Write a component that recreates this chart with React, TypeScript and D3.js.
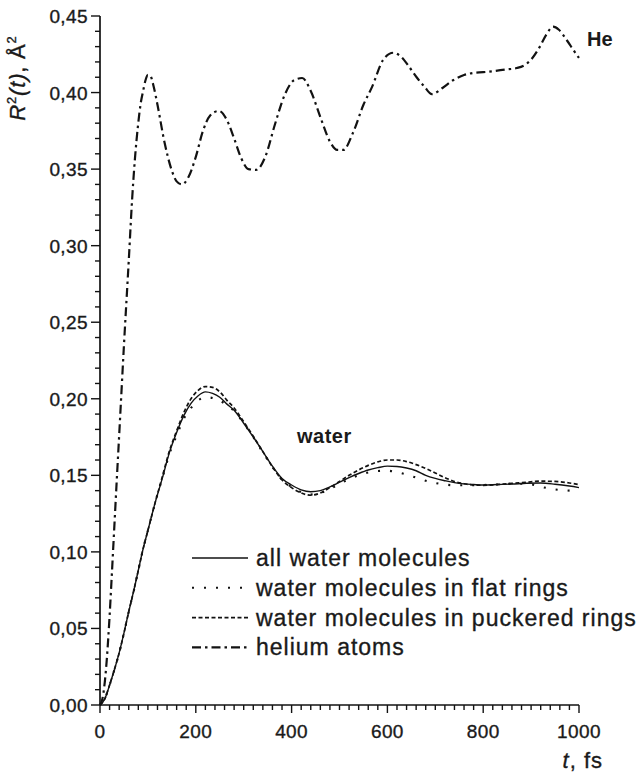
import React from "react";
import * as d3 from "d3";

// ---------- data ----------
const heTime = [0, 5, 10, 14, 20, 25, 30, 35, 40, 50, 60, 67, 73, 79, 85, 90, 95, 100, 105, 112, 120, 135, 150, 160, 171, 185, 200, 215, 230, 248, 265, 280, 295, 310, 326, 345, 365, 385, 405, 422, 440, 460, 480, 495, 508, 528, 550, 568, 591, 612, 630, 645, 661, 677, 693, 715, 737, 760, 779, 800, 821, 845, 870, 887, 900, 918, 932, 946, 958, 975, 990, 1000];
const heR2 = [0, 0.004, 0.015, 0.029, 0.058, 0.087, 0.117, 0.147, 0.176, 0.235, 0.29, 0.33, 0.357, 0.3775, 0.393, 0.401, 0.408, 0.4115, 0.411, 0.404, 0.392, 0.367, 0.349, 0.342, 0.34, 0.345, 0.358, 0.375, 0.385, 0.388, 0.382, 0.37, 0.357, 0.35, 0.3495, 0.358, 0.379, 0.398, 0.408, 0.4095, 0.401, 0.384, 0.368, 0.3625, 0.3625, 0.3736, 0.392, 0.4037, 0.4213, 0.426, 0.423, 0.417, 0.41, 0.404, 0.399, 0.403, 0.408, 0.4115, 0.4128, 0.4133, 0.414, 0.415, 0.416, 0.418, 0.4215, 0.4298, 0.438, 0.443, 0.441, 0.434, 0.427, 0.4226];

const waterTime = [0, 10, 20, 30, 40, 50, 60, 70, 80, 90, 100, 115, 130, 145, 160, 175, 190, 205, 220, 235, 250, 265, 280, 300, 320, 340, 360, 380, 400, 420, 440, 460, 480, 500, 520, 540, 560, 580, 600, 620, 640, 660, 680, 700, 720, 740, 760, 780, 800, 830, 860, 890, 920, 950, 980, 1000];
const allWater = [0, 0.004, 0.013, 0.023, 0.034, 0.047, 0.061, 0.074, 0.088, 0.102, 0.114, 0.132, 0.148, 0.165, 0.178, 0.189, 0.197, 0.202, 0.2045, 0.2035, 0.201, 0.1965, 0.1925, 0.184, 0.175, 0.1655, 0.156, 0.148, 0.1437, 0.1405, 0.1393, 0.14, 0.1425, 0.1455, 0.1485, 0.1512, 0.1535, 0.155, 0.156, 0.1558, 0.1548, 0.153, 0.15, 0.148, 0.1465, 0.1452, 0.1444, 0.144, 0.1437, 0.144, 0.1443, 0.1448, 0.145, 0.1442, 0.143, 0.142];
const flatRings = [0, 0.004, 0.013, 0.023, 0.034, 0.047, 0.061, 0.074, 0.088, 0.102, 0.114, 0.132, 0.148, 0.164, 0.176, 0.187, 0.194, 0.199, 0.201, 0.2005, 0.199, 0.1955, 0.192, 0.184, 0.175, 0.165, 0.1555, 0.147, 0.1425, 0.139, 0.1375, 0.1385, 0.141, 0.1445, 0.1475, 0.15, 0.1518, 0.1528, 0.153, 0.152, 0.1505, 0.1485, 0.1465, 0.145, 0.144, 0.1435, 0.1435, 0.1435, 0.1437, 0.144, 0.1445, 0.1445, 0.1425, 0.1408, 0.14, 0.1395];
const puckeredRings = [0, 0.004, 0.013, 0.023, 0.034, 0.047, 0.061, 0.074, 0.088, 0.102, 0.114, 0.132, 0.149, 0.166, 0.179, 0.191, 0.2, 0.2055, 0.208, 0.2075, 0.2045, 0.199, 0.194, 0.185, 0.1755, 0.1655, 0.1555, 0.147, 0.142, 0.1385, 0.137, 0.1385, 0.142, 0.146, 0.15, 0.1535, 0.1565, 0.1588, 0.16, 0.16, 0.159, 0.157, 0.1545, 0.1515, 0.1485, 0.146, 0.1445, 0.1437, 0.1435, 0.144, 0.1447, 0.1455, 0.1462, 0.146, 0.145, 0.144];

const legendLabels = [
  "all water molecules",
  "water molecules in flat rings",
  "water molecules in puckered rings",
  "helium atoms",
];
const xTickValues = [0, 200, 400, 600, 800, 1000];
const yTickValues = [0, 0.05, 0.1, 0.15, 0.2, 0.25, 0.3, 0.35, 0.4, 0.45];

// ---------- styles ----------
const FONT = "'Liberation Sans', Arial, Helvetica, sans-serif";
const INK = "#121212";
const TEXT = "#1a1a1a";
const dashStyles = [
  { dash: "none", width: 1.4 },
  { dash: "2,10", width: 2.1 },
  { dash: "4,2.5", width: 1.7 },
  { dash: "9,4,2.5,4", width: 2.2 },
];

export default function App() {
  const W = 640;
  const H = 776;
  const x = d3.scaleLinear().domain([0, 1000]).range([100, 579]);
  const y = d3.scaleLinear().domain([0, 0.45]).range([705, 16]);

  const line = d3
    .line<[number, number]>()
    .x((d) => x(d[0]))
    .y((d) => y(d[1]))
    .curve(d3.curveMonotoneX);

  const series = [
    { t: waterTime, v: allWater, s: dashStyles[0] },
    { t: waterTime, v: flatRings, s: dashStyles[1] },
    { t: waterTime, v: puckeredRings, s: dashStyles[2] },
    { t: heTime, v: heR2, s: dashStyles[3] },
  ];

  const xMinor = d3.range(0, 1001, 20);
  const yMinor = d3.range(0, 46, 1).map((d) => d / 100);
  const fmtY = (v: number) => d3.format(".2f")(v).replace(".", ",");

  const legendX0 = 192;
  const legendX1 = 248;
  const legendY0 = 558;
  const legendDy = 29.8;
  const textHalo = { stroke: TEXT, strokeWidth: 0.35 };

  return (
    <svg
      width={W}
      height={H}
      style={{ position: "absolute", left: 0, top: 0, background: "#fff" }}
      fontFamily={FONT}
    >
      <rect x={0} y={0} width={W} height={H} fill="#fff" />
      {/* axes lines */}
      <line x1={x(0)} x2={x(0)} y1={y(0)} y2={y(0.45)} stroke={INK} strokeWidth={1.7} />
      <line x1={x(0)} x2={x(1000)} y1={y(0)} y2={y(0)} stroke={INK} strokeWidth={1.7} />

      {/* y ticks */}
      {yMinor.map((v, i) => {
        const major = i % 5 === 0;
        return (
          <line
            key={"ym" + i}
            x1={x(0)}
            x2={x(0) - (major ? 9 : 5)}
            y1={y(v)}
            y2={y(v)}
            stroke={INK}
            strokeWidth={1.4}
          />
        );
      })}
      {yTickValues.map((v) => (
        <text
          key={"yl" + v}
          x={88}
          y={y(v) + 7}
          textAnchor="end"
          fontSize={19}
          fill={TEXT}
          {...textHalo}
          style={{ letterSpacing: "0.4px" }}
        >
          {fmtY(v)}
        </text>
      ))}

      {/* x ticks */}
      {xMinor.map((v, i) => {
        const major = i % 10 === 0;
        return (
          <line
            key={"xm" + i}
            x1={x(v)}
            x2={x(v)}
            y1={y(0)}
            y2={y(0) + (major ? 8 : 5)}
            stroke={INK}
            strokeWidth={1.4}
          />
        );
      })}
      {xTickValues.map((v) => (
        <text
          key={"xl" + v}
          x={x(v)}
          y={738}
          textAnchor="middle"
          fontSize={19}
          fill={TEXT}
          {...textHalo}
          style={{ letterSpacing: "0.4px" }}
        >
          {String(v)}
        </text>
      ))}

      {/* axis titles */}
      <text x={603} y={768} textAnchor="end" fontSize={22} fill={TEXT} {...textHalo} style={{ letterSpacing: "1px" }}>
        <tspan fontStyle="italic">t</tspan>, fs
      </text>
      <text
        transform="translate(25,78) rotate(-90)"
        textAnchor="middle"
        fontSize={22}
        fill={TEXT}
        {...textHalo}
        style={{ letterSpacing: "0.8px" }}
      >
        <tspan fontStyle="italic">R</tspan>
        <tspan fontSize={13} dy={-9}>2</tspan>
        <tspan dy={9} fontStyle="italic">(t)</tspan>
        <tspan>, Å</tspan>
        <tspan fontSize={13} dy={-9}>2</tspan>
      </text>

      {/* curves */}
      {series.map((sr, i) => (
        <path
          key={"s" + i}
          d={line(sr.t.map((t, j) => [t, sr.v[j]] as [number, number])) || ""}
          fill="none"
          stroke={INK}
          strokeWidth={sr.s.width}
          strokeDasharray={sr.s.dash}
        />
      ))}

      {/* curve labels */}
      <text x={587} y={46} fontSize={20} fontWeight="bold" fill={TEXT}>
        He
      </text>
      <text x={297} y={443} fontSize={20} fontWeight="bold" fill={TEXT} style={{ letterSpacing: "0.5px" }}>
        water
      </text>

      {/* legend */}
      {legendLabels.map((lab, i) => {
        const ly = legendY0 + i * legendDy;
        return (
          <g key={"lg" + i}>
            <line
              x1={legendX0}
              x2={legendX1}
              y1={ly}
              y2={ly}
              stroke={INK}
              strokeWidth={dashStyles[i].width}
              strokeDasharray={dashStyles[i].dash}
            />
            <text x={256} y={ly + 8} fontSize={23} fill={TEXT} {...textHalo} style={{ letterSpacing: "1px" }}>
              {lab}
            </text>
          </g>
        );
      })}
    </svg>
  );
}
